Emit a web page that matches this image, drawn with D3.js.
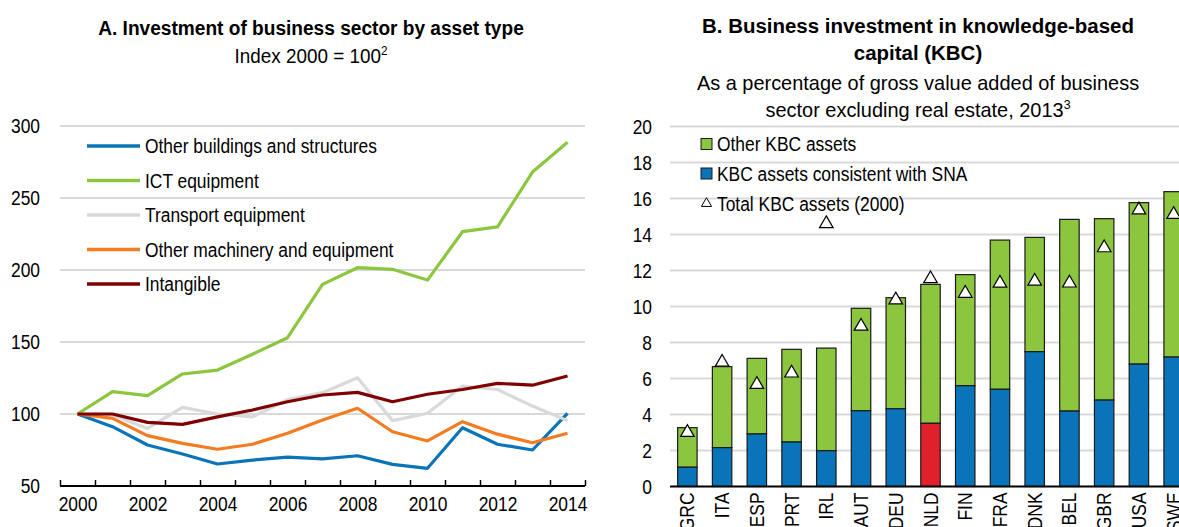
<!DOCTYPE html>
<html>
<head>
<meta charset="utf-8">
<script src="https://cdn.jsdelivr.net/npm/d3@7"></script>
<style>
  body { margin: 0; background: #fff; overflow: hidden; }
  svg { display: block; }
  text { font-family: "Liberation Sans", Arial, sans-serif; fill: #000; }
</style>
</head>
<body>
<svg id="chart" width="1179" height="527"></svg>
<script>
// ---- Panel A data: index 2000 = 100
const years = d3.range(2000, 2015);
const buildings = [100, 91.2, 78.5, 72.2, 65.3, 68, 70, 68.8, 71, 65, 62.3, 90.5, 79, 75, 100.5];
const ict = [100, 115.5, 112.7, 127.8, 130.5, 141.5, 153, 190, 201.6, 200.5, 193, 226.6, 230, 268, 288.7];
const transport = [100, 99.3, 90, 104.6, 100, 98, 110, 114.8, 125.2, 95.4, 100.5, 119.4, 117, 105.5, 95.4];
const machinery = [100, 97, 85, 79.6, 75.5, 79, 86.6, 95.8, 104, 87.7, 81.3, 94.7, 86, 80, 86.6];
const intangible = [100, 100, 94.2, 92.8, 98, 102.8, 108.5, 113.2, 115, 108.5, 113.7, 117, 121.3, 120, 126.4];
const seriesNames = ["Other buildings and structures", "ICT equipment", "Transport equipment", "Other machinery and equipment", "Intangible"];
const seriesColors = ["#0a74ba", "#8cc63f", "#d9d9d9", "#f47c20", "#7f0000"];
const seriesValues = [buildings, ict, transport, machinery, intangible];
const yTicksA = [50, 100, 150, 200, 250, 300];

// ---- Panel B data: % of GVA, 2013
const countries = ["GRC", "ITA", "ESP", "PRT", "IRL", "AUT", "DEU", "NLD", "FIN", "FRA", "DNK", "BEL", "GBR", "USA", "SWE"];
const kbcSNA = [1.07, 2.16, 2.92, 2.47, 1.99, 4.21, 4.32, 3.51, 5.6, 5.4, 7.49, 4.19, 4.8, 6.8, 7.19];
const kbcTotal = [3.27, 6.66, 7.12, 7.62, 7.69, 9.9, 10.49, 11.23, 11.77, 13.69, 13.84, 14.84, 14.88, 15.77, 16.38];
const kbc2000 = [3.0, 6.9, 5.67, 6.3, 14.6, 8.9, 10.36, 11.54, 10.73, 11.29, 11.4, 11.3, 13.26, 15.36, 15.11];
const yTicksB = [0, 2, 4, 6, 8, 10, 12, 14, 16, 18, 20];
const highlight = "NLD";

const svg = d3.select("#chart");
const gridColor = "#d9d9d9";
const fs = 20;
const narrow = 0.87; // no Arial Narrow installed, so squeeze Liberation Sans

// ================= Panel A =================
const gA = svg.append("g");
const xA = d3.scaleLinear().domain([1999.5, 2014.5]).range([60, 585]);
const yA = d3.scaleLinear().domain([50, 300]).range([486, 126]);

gA.selectAll(".grid").data(yTicksA.filter(d => d > 50)).join("line")
    .attr("x1", 60).attr("x2", 585)
    .attr("y1", d => yA(d)).attr("y2", d => yA(d))
    .attr("stroke", gridColor).attr("stroke-width", 2);

gA.selectAll(".ylab").data(yTicksA).join("text")
    .attr("x", 40).attr("y", d => yA(d)).attr("dy", "0.35em")
    .attr("text-anchor", "end").attr("font-size", fs).text(d => d);

// x axis: ticks on year boundaries, labels every other year
const axA = gA.append("g").attr("transform", `translate(0,${yA(50)})`)
    .call(d3.axisBottom(xA).tickValues(d3.range(1999.5, 2015, 1)).tickSize(-6).tickFormat(""));
axA.select(".domain").attr("stroke", "#000").attr("stroke-width", 2).attr("d", "M60,0H585");
axA.selectAll(".tick line").attr("stroke", "#000").attr("stroke-width", 1.5);

const labA = gA.append("g").attr("transform", `translate(0,${yA(50)})`)
    .call(d3.axisBottom(xA).tickValues(years.filter(y => y % 2 === 0)).tickSize(0).tickFormat(d3.format("d")));
labA.select(".domain").remove();
labA.attr("font-family", null).attr("font-size", null);
labA.selectAll("text").attr("font-size", fs).attr("y", 10).attr("dy", "0.75em");

const line = d3.line().x((d, i) => xA(years[i])).y(d => yA(d));
gA.selectAll(".series").data(seriesValues).join("path")
    .attr("fill", "none")
    .attr("stroke", (d, i) => seriesColors[i])
    .attr("stroke-width", 3.2)
    .attr("stroke-linejoin", "round")
    .attr("d", line);

// legend A
const legA = gA.selectAll(".legA").data(seriesNames).join("g")
    .attr("transform", (d, i) => `translate(87,${146 + i * 34.5})`);
legA.append("line").attr("x1", 0).attr("x2", 53)
    .attr("stroke", (d, i) => seriesColors[i]).attr("stroke-width", 3.5);
legA.append("text").attr("x", 58).attr("dy", "0.35em").attr("font-size", fs).text(d => d);

// titles A
gA.append("text").attr("x", 311).attr("y", 35).attr("text-anchor", "middle")
    .attr("font-size", 21).attr("font-weight", "bold").attr("data-sx", 0.91)
    .text("A. Investment of business sector by asset type");
const subA = gA.append("text").attr("x", 311).attr("y", 63).attr("text-anchor", "middle")
    .attr("font-size", 21).attr("data-sx", 0.9);
subA.append("tspan").text("Index 2000 = 100");
subA.append("tspan").attr("font-size", 13).attr("dy", -8).text("2");

// ================= Panel B =================
const gB = svg.append("g");
const xB = d3.scaleBand().domain(countries).range([670, 1191]).paddingInner(0.44).paddingOuter(0.22);
const yB = d3.scaleLinear().domain([0, 20]).range([486.5, 126.5]);

gB.selectAll(".grid").data(yTicksB.filter(d => d > 0)).join("line")
    .attr("x1", 670).attr("x2", 1179)
    .attr("y1", d => yB(d)).attr("y2", d => yB(d))
    .attr("stroke", gridColor).attr("stroke-width", 2);

gB.selectAll(".ylab").data(yTicksB).join("text")
    .attr("x", 652).attr("y", d => yB(d)).attr("dy", "0.35em")
    .attr("text-anchor", "end").attr("font-size", fs).text(d => d);

const barData = countries.map((c, i) => ({ c, sna: kbcSNA[i], total: kbcTotal[i], t2000: kbc2000[i] }));

// other KBC (green, stacked on top)
gB.selectAll(".other").data(barData).join("rect")
    .attr("x", d => xB(d.c)).attr("width", xB.bandwidth())
    .attr("y", d => yB(d.total)).attr("height", d => yB(d.sna) - yB(d.total))
    .attr("fill", "#8cc63f").attr("stroke", "#1a1a1a").attr("stroke-width", 1.2);

gB.selectAll(".sna").data(barData).join("rect")
    .attr("x", d => xB(d.c)).attr("width", xB.bandwidth())
    .attr("y", d => yB(d.sna)).attr("height", d => yB(0) - yB(d.sna))
    .attr("fill", d => d.c === highlight ? "#e0202a" : "#0a74ba")
    .attr("stroke", "#1a1a1a").attr("stroke-width", 1.2);

const tri = d3.symbol().type(d3.symbolTriangle).size(80);
gB.selectAll(".tri").data(barData).join("path")
    .attr("transform", d => `translate(${xB(d.c) + xB.bandwidth() / 2},${yB(d.t2000)})`)
    .attr("d", tri).attr("fill", "#fff").attr("stroke", "#000").attr("stroke-width", 1.2);

gB.append("line").attr("x1", 670).attr("x2", 1179)
    .attr("y1", yB(0)).attr("y2", yB(0)).attr("stroke", "#000").attr("stroke-width", 2);

gB.selectAll(".xlab").data(countries).join("text")
    .attr("transform", d => `translate(${xB(d) + xB.bandwidth() / 2},${yB(0) + 6}) rotate(-90)`)
    .attr("text-anchor", "end").attr("dy", "0.35em").attr("font-size", fs).text(d => d);

// legend B
const legB = gB.append("g").attr("transform", "translate(701,0)");
const legItems = [
  { label: "Other KBC assets", color: "#8cc63f", y: 144 },
  { label: "KBC assets consistent with SNA", color: "#0a74ba", y: 173.5 }
];
legItems.forEach(it => {
  legB.append("rect").attr("x", 0).attr("y", it.y - 5.5).attr("width", 11).attr("height", 11)
      .attr("fill", it.color).attr("stroke", "#1a1a1a").attr("stroke-width", 1);
  legB.append("text").attr("x", 16).attr("y", it.y).attr("dy", "0.35em").attr("font-size", fs).text(it.label);
});
legB.append("path").attr("transform", "translate(5.5,203.5)")
    .attr("d", d3.symbol().type(d3.symbolTriangle).size(45))
    .attr("fill", "#fff").attr("stroke", "#000").attr("stroke-width", 1);
legB.append("text").attr("x", 16).attr("y", 203.5).attr("dy", "0.35em").attr("font-size", fs).text("Total KBC assets (2000)");

// titles B
const tB = [
  { t: "B. Business investment in knowledge-based", y: 33, bold: true },
  { t: "capital (KBC)", y: 60, bold: true },
  { t: "As a percentage of gross value added of business", y: 90, bold: false }
];
tB.forEach(d => gB.append("text").attr("x", 918).attr("y", d.y).attr("text-anchor", "middle")
    .attr("font-size", 21).attr("data-sx", d.bold ? 0.975 : 0.95)
    .attr("font-weight", d.bold ? "bold" : "normal").text(d.t));
const subB = gB.append("text").attr("x", 918).attr("y", 117).attr("text-anchor", "middle")
    .attr("font-size", 21).attr("data-sx", 0.95);
subB.append("tspan").text("sector excluding real estate, 2013");
subB.append("tspan").attr("font-size", 13).attr("dy", -8).text("3");

// squeeze every label horizontally (along its own direction) to mimic Arial Narrow
svg.selectAll("text").each(function () {
  const t = d3.select(this);
  const x = +t.attr("x") || 0, y = +t.attr("y") || 0;
  const tr = t.attr("transform") || "";
  const sx = +t.attr("data-sx") || narrow;
  t.attr("x", null).attr("y", null)
   .attr("transform", `${tr} translate(${x},${y}) scale(${sx},1)`);
});
</script>
</body>
</html>
